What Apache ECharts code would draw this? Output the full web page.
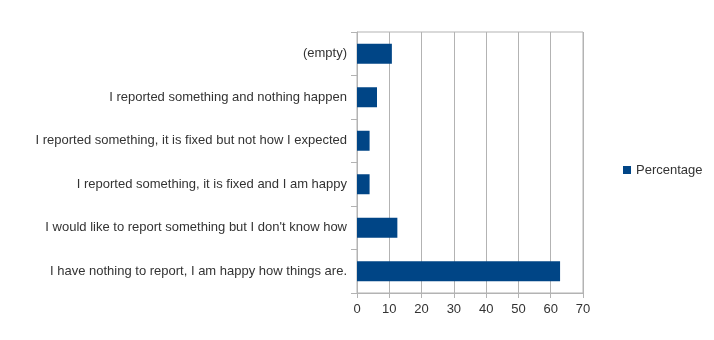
<!DOCTYPE html>
<html>
<head>
<meta charset="utf-8">
<script src="https://cdn.jsdelivr.net/npm/echarts@6/dist/echarts.min.js"></script>
<style>
  html, body { margin: 0; padding: 0; background: #fff; }
  #chart { width: 714px; height: 340px; }
</style>
</head>
<body>
<div id="chart"></div>
<script>
// Survey answers, listed bottom to top as the category axis draws them
const categories = [
  "I have nothing to report, I am happy how things are.",
  "I would like to report something but I don't know how",
  "I reported something, it is fixed and I am happy",
  "I reported something, it is fixed but not how I expected",
  "I reported something and nothing happen",
  "(empty)"
];
const percentage = [62.9, 12.5, 3.9, 3.9, 6.2, 10.8];
const seriesName = "Percentage";

const gridColor = "#b3b3b3";
const textColor = "#333333";
const font = "Liberation Sans, Arial, sans-serif";

const chart = echarts.init(document.getElementById("chart"), null, { renderer: "canvas" });
chart.setOption({
  animation: false,
  textStyle: { fontFamily: font },
  grid: {
    left: 357, right: 131, top: 32, bottom: 47,
    containLabel: false,
    show: true, borderColor: gridColor, borderWidth: 1, backgroundColor: "transparent"
  },
  legend: {
    data: [seriesName],
    orient: "vertical",
    left: 623, top: 163.5,
    itemWidth: 8, itemHeight: 8, itemGap: 5,
    icon: "rect",
    textStyle: { color: textColor, fontSize: 13, fontFamily: font, padding: [0, 0, 0, 0] },
    padding: 0
  },
  xAxis: {
    type: "value",
    min: 0, max: 70, interval: 10,
    axisLine: { show: true, lineStyle: { color: gridColor } },
    axisTick: { show: true, length: 5, lineStyle: { color: gridColor } },
    axisLabel: { color: textColor, fontSize: 13, fontFamily: font, margin: 10 },
    splitLine: { show: true, lineStyle: { color: gridColor, width: 1 } }
  },
  yAxis: {
    type: "category",
    data: categories,
    axisLine: { show: true, lineStyle: { color: gridColor } },
    axisTick: { show: true, length: 6, alignWithLabel: false, lineStyle: { color: gridColor } },
    axisLabel: { color: textColor, fontSize: 13, fontFamily: font, margin: 10, padding: [2, 0, 0, 0] },
    splitLine: { show: false }
  },
  series: [{
    name: seriesName,
    type: "bar",
    data: percentage,
    barWidth: 20,
    itemStyle: { color: "#004586" }
  }]
});
</script>
</body>
</html>
